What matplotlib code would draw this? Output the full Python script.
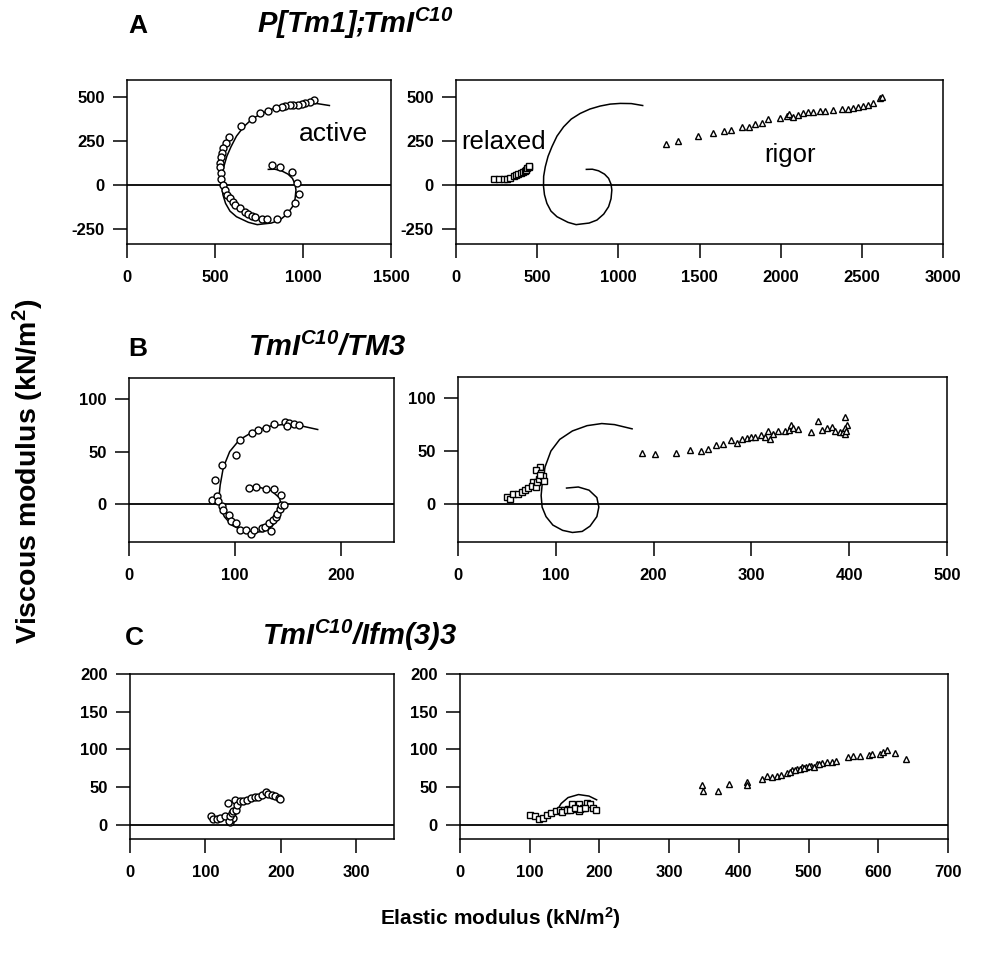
import matplotlib
matplotlib.use("Agg")
import matplotlib.pyplot as plt

plt.rcParams['font.family'] = ['Liberation Sans', 'DejaVu Sans']
plt.rcParams['axes.unicode_minus'] = False
plt.rcParams['mathtext.fontset'] = 'custom'
plt.rcParams['mathtext.rm'] = 'Liberation Sans'
plt.rcParams['mathtext.bf'] = 'Liberation Sans:bold'
plt.rcParams['mathtext.it'] = 'Liberation Sans:italic'
plt.rcParams['mathtext.bfit'] = 'Liberation Sans:italic:bold'

# ---------------- Panel A: P[Tm1];TmI C10 ----------------
a_curve_x = [803, 840, 878, 915, 940, 955, 960, 955, 940, 910, 868, 820, 765, 740, 690, 622, 585,
             560, 545, 539, 540, 550, 567, 591, 622, 663, 710, 765, 825, 888, 950, 1012, 1080, 1150]
a_curve_y = [89, 90, 81, 62, 38, 5, -28, -78, -123, -165, -199, -216, -222, -225, -212, -180, -148,
             -104, -55, -6, 50, 104, 163, 218, 278, 331, 375, 407, 432, 449, 460, 464, 463, 452]

a_active_x = [1064, 1040, 1012, 993, 974, 946, 927, 898, 879, 847, 803, 756, 713, 647, 582, 563,
              548, 539, 533, 526, 530, 533, 533, 544, 557, 567, 586, 601, 614, 643, 671, 690,
              708, 727, 765, 793, 850, 907, 954, 977, 968, 935, 869, 822]
a_active_y = [483, 473, 464, 459, 455, 455, 453, 449, 446, 436, 422, 407, 373, 337, 271, 237,
              209, 184, 157, 127, 101, 71, 37, 1, -27, -56, -75, -96, -113, -130, -151, -164,
              -176, -183, -195, -195, -195, -161, -104, -51, 10, 73, 105, 114]

a_relaxed_x = [232, 262, 293, 314, 334, 359, 372, 385, 398, 412, 425, 433, 440, 447, 447]
a_relaxed_y = [34, 34, 32, 36, 42, 49, 55, 61, 66, 74, 80, 88, 95, 100, 107]

a_rigor_x = [1291, 1367, 1488, 1586, 1648, 1693, 1761, 1808, 1843, 1884, 1925, 1996, 2037, 2053,
             2078, 2109, 2139, 2170, 2201, 2242, 2273, 2324, 2375, 2416, 2447, 2478, 2509, 2540,
             2567, 2612, 2622]
a_rigor_y = [233, 250, 278, 293, 307, 313, 328, 331, 346, 354, 373, 379, 392, 402,
             388, 399, 411, 417, 417, 420, 422, 426, 433, 435, 439, 445, 449, 453,
             464, 492, 502]

# ---------------- Panel B: TmI C10/TM3 ----------------
b_curve_x = [111, 123, 134, 142, 144, 142, 135, 127, 117, 107, 97, 90, 86, 85, 86, 89, 95, 104,
             117, 132, 147, 160, 178]
b_curve_y = [15, 16, 13, 6, -3, -12, -21, -26, -27, -25, -20, -12, -3, 8, 18, 35, 50, 61,
             69, 74, 76, 75, 71]

b_active_x = [147, 151, 156, 160, 149, 137, 129, 122, 116, 105, 101, 88, 81, 78, 83, 84, 88, 89,
              94, 96, 101, 105, 110, 115, 118, 125, 128, 132, 134, 136, 139, 140, 142, 143, 146,
              143, 137, 129, 120, 113]
b_active_y = [78, 77, 76, 75, 74, 76, 72, 71, 68, 61, 47, 37, 23, 4, 8, 3, -2, -6,
              -10, -16, -18, -25, -25, -28, -25, -23, -22, -18, -26, -15, -12, -9, -5, -1, -1,
              9, 14, 14, 16, 15]

b_relaxed_x = [50, 53, 56, 61, 65, 69, 72, 77, 76, 80, 81, 83, 84, 80, 85, 87, 88, 84]
b_relaxed_y = [7, 5, 9, 9, 11, 13, 15, 21, 17, 16, 21, 24, 35, 32, 29, 26, 22, 27]

b_rigor_x = [188, 201, 223, 237, 248, 256, 264, 271, 279, 285, 290, 295, 300, 304, 310, 314, 317,
             319, 322, 327, 334, 338, 341, 343, 348, 361, 368, 372, 377, 382, 385, 391, 394,
             396, 396, 398, 396, 397]
b_rigor_y = [48, 47, 48, 51, 50, 52, 56, 57, 60, 58, 61, 62, 63, 63, 65, 63, 69,
             61, 66, 69, 69, 70, 75, 72, 71, 68, 78, 70, 72, 73, 69, 68, 68,
             66, 82, 75, 72, 69]

# ---------------- Panel C: TmI C10/Ifm(3)3 ----------------
c_curve_x = [140, 145, 155, 170, 185, 196]
c_curve_y = [20, 28, 36, 40, 38, 33]

c_active_x = [108, 110, 116, 119, 126, 130, 134, 133, 137, 131, 133, 135, 137, 139, 140, 142, 146,
              150, 155, 161, 166, 170, 175, 180, 183, 188, 192, 197, 199]
c_active_y = [11, 8, 7, 9, 11, 29, 7, 4, 9, 5, 12, 15, 18, 33, 20, 26, 31,
              32, 33, 35, 37, 37, 40, 43, 41, 39, 38, 35, 34]

c_relaxed_x = [101, 107, 114, 119, 125, 131, 138, 143, 149, 155, 161, 165, 170, 171, 177, 182, 187,
               191, 195, 146, 153, 158, 165, 172, 180]
c_relaxed_y = [13, 12, 8, 9, 13, 15, 18, 19, 20, 21, 27, 21, 27, 18, 22, 29, 27,
               22, 19, 17, 19, 20, 22, 21, 22]

c_rigor_x = [347, 349, 370, 386, 411, 411, 433, 440, 447, 454, 461, 469, 476, 483, 490, 497, 504,
             512, 519, 526, 533, 540, 557, 564, 574, 586, 591, 602, 607, 612, 624, 640,
             473, 480, 487, 494, 501, 508, 515]
c_rigor_y = [53, 45, 45, 54, 57, 53, 60, 64, 63, 64, 66, 69, 72, 74, 76, 77, 78,
             80, 82, 83, 83, 84, 90, 91, 91, 93, 94, 94, 96, 99, 95, 87,
             70, 73, 74, 75, 78, 77, 80]


def estilo_ejes(ax, xlim, ylim, xticks, yticks):
    ax.set_xlim(*xlim)
    ax.set_ylim(*ylim)
    ax.set_xticks(xticks)
    ax.set_yticks(yticks)
    ax.tick_params(direction='out', length=10, width=1.1, labelsize=12, pad=6)
    ax.tick_params(axis='x', pad=9)
    for lbl in ax.get_xticklabels() + ax.get_yticklabels():
        lbl.set_fontweight('bold')
    for s in ax.spines.values():
        s.set_linewidth(1.1)
    ax.axhline(0, color='black', lw=1.3, zorder=1)


def puntos(ax, x, y, m, ms):
    ax.plot(x, y, ls='none', marker=m, ms=ms, mfc='white', mec='black', mew=1.0, zorder=3)


fig = plt.figure(figsize=(10.01, 9.58), dpi=100)
W, H = 1001.0, 958.0


def caja(x0, x1, y0, y1):
    return fig.add_axes([x0 / W, 1 - y1 / H, (x1 - x0) / W, (y1 - y0) / H])


# A
ax = caja(127, 391, 80, 244)
ax.plot(a_curve_x, a_curve_y, color='black', lw=1.1, zorder=2)
puntos(ax, a_active_x, a_active_y, 'o', 5)
ax.text(975, 290, 'active', fontsize=19, va='center')
estilo_ejes(ax, (0, 1500), (-335, 597), [0, 500, 1000, 1500], [-250, 0, 250, 500])

ax = caja(456, 943, 80, 244)
ax.plot(a_curve_x, a_curve_y, color='black', lw=1.1, zorder=2)
puntos(ax, a_relaxed_x, a_relaxed_y, 's', 4)
puntos(ax, a_rigor_x, a_rigor_y, '^', 4.5)
ax.text(30, 245, 'relaxed', fontsize=18.5, va='center')
ax.text(1900, 170, 'rigor', fontsize=18.5, va='center')
estilo_ejes(ax, (0, 3000), (-335, 597), range(0, 3001, 500), [-250, 0, 250, 500])

# B
ax = caja(129, 394, 378, 542)
ax.plot(b_curve_x, b_curve_y, color='black', lw=1.1, zorder=2)
puntos(ax, b_active_x, b_active_y, 'o', 5)
estilo_ejes(ax, (0, 250), (-36, 120), [0, 100, 200], [0, 50, 100])

ax = caja(458, 947, 377, 542)
ax.plot(b_curve_x, b_curve_y, color='black', lw=1.1, zorder=2)
puntos(ax, b_relaxed_x, b_relaxed_y, 's', 5)
puntos(ax, b_rigor_x, b_rigor_y, '^', 4.5)
estilo_ejes(ax, (0, 500), (-36, 120), range(0, 501, 100), [0, 50, 100])

# C
ax = caja(130, 394, 674, 839)
puntos(ax, c_active_x, c_active_y, 'o', 5)
estilo_ejes(ax, (0, 350), (-19, 200), [0, 100, 200, 300], range(0, 201, 50))

ax = caja(460, 948, 674, 839)
ax.plot(c_curve_x, c_curve_y, color='black', lw=1.1, zorder=2)
puntos(ax, c_relaxed_x, c_relaxed_y, 's', 4.5)
puntos(ax, c_rigor_x, c_rigor_y, '^', 4.5)
estilo_ejes(ax, (0, 700), (-19, 200), range(0, 701, 100), range(0, 201, 50))

# Letras y titulos de los paneles
for letra, titulo, xl, xt, yb in [
        ('A', r'$\mathbfit{P[Tm1];}\!\!\mathbfit{TmI}^{\mathbfit{C10}}$', 128, 257, 33),
        ('B', r'$\mathbfit{TmI}^{\mathbfit{C10}}\mathbfit{/TM3}$', 128, 248, 356),
        ('C', r'$\mathbfit{TmI}^{\mathbfit{C10}}\mathbfit{/Ifm(3)3}$', 125, 262, 645)]:
    fig.text(xl / W, 1 - yb / H, letra, fontsize=19, fontweight='bold', va='baseline')
    fig.text(xt / W, 1 - yb / H, titulo, fontsize=21, va='baseline')

fig.text(28 / W, 1 - 471 / H, r'Viscous modulus (kN/m$\mathbf{^2}$)', rotation=90, fontsize=20.5,
         fontweight='bold', ha='center', va='center')
fig.text(0.5, 1 - 918 / H, r'Elastic modulus (kN/m$\mathbf{^2}$)', fontsize=15,
         fontweight='bold', ha='center', va='center')

fig.savefig('out.png', dpi=100)
